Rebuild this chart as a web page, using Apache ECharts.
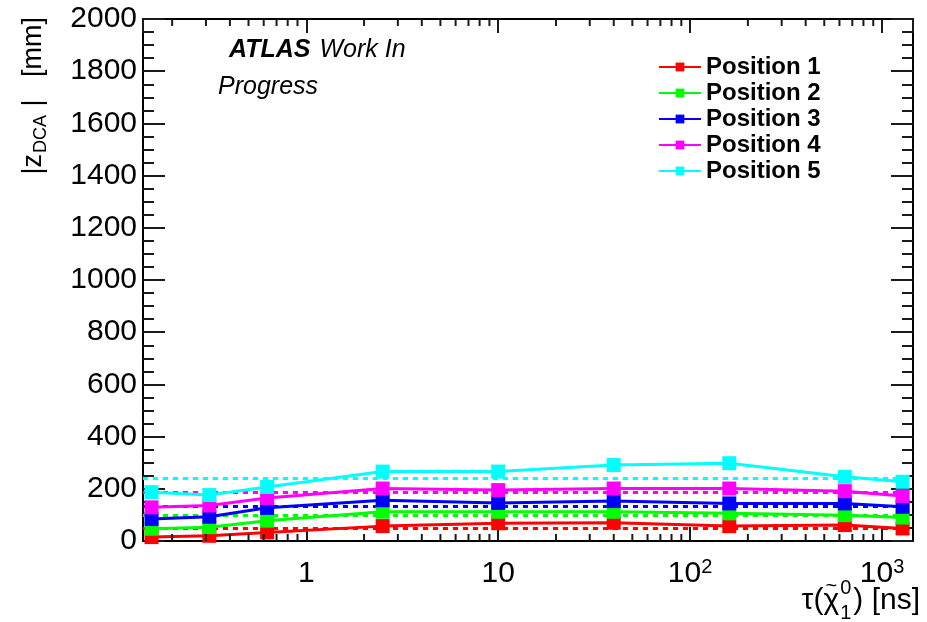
<!DOCTYPE html>
<html>
<head>
<meta charset="utf-8">
<script src="https://cdn.jsdelivr.net/npm/echarts@6/dist/echarts.min.js"></script>
<style>
  html, body { margin: 0; padding: 0; background: #ffffff; }
  #chart { width: 927px; height: 622px; }
</style>
</head>
<body>
<div id="chart"></div>
<script>
// Neutralino lifetimes [ns] at which |z_DCA| was evaluated
const lifetimes = [0.15625, 0.3125, 0.625, 2.5, 10, 40, 160, 640, 1280];

// |z_DCA| [mm] per detector position
const position1 = [15, 20, 33, 57, 68, 70, 57, 61, 48];
const position2 = [47, 53, 78, 112, 112, 112, 106, 99, 90];
const position3 = [84, 93, 127, 156, 146, 153, 144, 144, 131];
const position4 = [129, 136, 165, 201, 195, 201, 201, 191, 172];
const position5 = [187, 176, 207, 266, 266, 291, 298, 246, 227];

// dashed reference level for each position
const referenceLevels = [50, 97, 134, 186, 240];

const seriesNames = ['Position 1', 'Position 2', 'Position 3', 'Position 4', 'Position 5'];
const seriesColors = ['#ff0000', '#00ff00', '#0000ff', '#ff00ff', '#00ffff'];
const seriesValues = [position1, position2, position3, position4, position5];

// decade labels on the lifetime axis
const xTickLabels = { 1: '1', 10: '10', 100: '10{sup|2}', 1000: '10{sup|3}' };
// minor ticks between decades
const xMinorTicks = [0.2, 0.3, 0.4, 0.5, 0.6, 0.7, 0.8, 0.9,
                     2, 3, 4, 5, 6, 7, 8, 9,
                     20, 30, 40, 50, 60, 70, 80, 90,
                     200, 300, 400, 500, 600, 700, 800, 900];

const xRange = [0.141, 1450];
const yRange = [0, 2000];
const yStep = 200;

const FONT = '"Liberation Sans", Arial, Helvetica, sans-serif';
const TICK = { color: '#1a1a1a', width: 2 };

const chart = echarts.init(document.getElementById('chart'), null, { renderer: 'canvas' });

// text width helper for composing the axis title
const measureCtx = document.createElement('canvas').getContext('2d');
function textWidth(t, size, weight) {
  measureCtx.font = (weight || 'normal') + ' ' + size + 'px ' + FONT;
  return measureCtx.measureText(t).width;
}

const lineSeries = seriesNames.map((name, i) => ({
  name: name,
  type: 'line',
  xAxisIndex: 0,
  yAxisIndex: 0,
  data: lifetimes.map((t, j) => [t, seriesValues[i][j]]),
  symbol: 'rect',
  symbolSize: 14,
  showAllSymbol: true,
  itemStyle: { color: seriesColors[i] },
  lineStyle: { color: seriesColors[i], width: 3 },
  z: 3 + i,
  markLine: {
    silent: true,
    symbol: 'none',
    label: { show: false },
    lineStyle: { color: seriesColors[i], width: 3, type: [5, 5] },
    data: [{ yAxis: referenceLevels[i] }],
    z: 2
  }
}));

// x-axis title: tau(chi~_1^0) [ns], right aligned
const TF = 30, SF = 20;
const xtRight = 920, xtMid = 601;
const partA = 'τ(';
const partChi = 'χ';
const partC = ') [ns]';
const wA = textWidth(partA, TF);
const wChi = textWidth(partChi, TF);
const wS = Math.max(textWidth('0', SF), textWidth('1', SF));
const wC = textWidth(partC, TF);
const xt0 = xtRight - wC - wS - 3 - wChi - wA;

const baseGraphics = [
  {
    type: 'text',
    x: 229,
    y: 50,
    style: {
      text: '{b|ATLAS} {i|Work In}',
      verticalAlign: 'middle',
      font: 'italic 25px ' + FONT,
      rich: {
        b: { fontFamily: FONT, fontSize: 25, fontWeight: 'bold', fontStyle: 'italic', fill: '#000' },
        i: { fontFamily: FONT, fontSize: 25, fontStyle: 'italic', fill: '#000', padding: [0, 0, 0, 2] }
      }
    }
  },
  {
    type: 'text',
    x: 218,
    y: 87,
    style: { text: 'Progress', verticalAlign: 'middle', font: 'italic 25px ' + FONT, fill: '#000' }
  },
  {
    type: 'text',
    x: 34,
    y: 17,
    rotation: Math.PI / 2,
    style: {
      text: '|z{sub|DCA} |   [mm]',
      align: 'right',
      verticalAlign: 'middle',
      font: '27px ' + FONT,
      fill: '#000',
      rich: {
        sub: { fontFamily: FONT, fontSize: 18, fill: '#000', padding: [15, 1, 0, 1] }
      }
    }
  },
  { type: 'text', x: xt0, y: xtMid, style: { text: partA, font: TF + 'px ' + FONT, fill: '#000', verticalAlign: 'middle' } },
  { type: 'text', x: xt0 + wA, y: xtMid, style: { text: partChi, font: TF + 'px ' + FONT, fill: '#000', verticalAlign: 'middle' } },
  { type: 'text', x: xt0 + wA + wChi / 2, y: xtMid - 15, style: { text: '~', font: '20px ' + FONT, fill: '#000', align: 'center', verticalAlign: 'middle' } },
  { type: 'text', x: xt0 + wA + wChi + 1, y: xtMid - 13, style: { text: '0', font: SF + 'px ' + FONT, fill: '#000', verticalAlign: 'middle' } },
  { type: 'text', x: xt0 + wA + wChi + 1, y: xtMid + 12, style: { text: '1', font: SF + 'px ' + FONT, fill: '#000', verticalAlign: 'middle' } },
  { type: 'text', x: xt0 + wA + wChi + wS + 3, y: xtMid, style: { text: partC, font: TF + 'px ' + FONT, fill: '#000', verticalAlign: 'middle' } }
];

const option = {
  animation: false,
  backgroundColor: '#ffffff',
  grid: { left: 143, right: 14, top: 19, bottom: 81, containLabel: false },
  legend: {
    orient: 'vertical',
    left: 653,
    top: 50,
    itemWidth: 42,
    itemHeight: 11,
    itemGap: 2,
    data: seriesNames,
    textStyle: { fontFamily: FONT, fontWeight: 'bold', fontSize: 24, color: '#000', lineHeight: 24 }
  },
  xAxis: [
    {
      type: 'log',
      logBase: 10,
      min: xRange[0],
      max: xRange[1],
      position: 'bottom',
      axisLine: { show: true, onZero: false, lineStyle: { color: '#000', width: 2 } },
      axisTick: { show: true, inside: true, length: 14, lineStyle: TICK },
      splitLine: { show: false },
      axisLabel: {
        show: true,
        showMinLabel: false,
        showMaxLabel: false,
        margin: 33,
        verticalAlign: 'middle',
        fontFamily: FONT,
        fontSize: 30,
        color: '#000',
        formatter: function (v) {
          const k = Math.round(v);
          return xTickLabels[k] !== undefined && Math.abs(v - k) < 1e-6 ? xTickLabels[k] : '';
        },
        rich: {
          sup: { fontFamily: FONT, fontSize: 20, color: '#000', padding: [0, 0, 14, 0] }
        }
      }
    },
    {
      type: 'log',
      logBase: 10,
      min: xRange[0],
      max: xRange[1],
      position: 'top',
      axisLine: { show: true, onZero: false, lineStyle: { color: '#000', width: 2 } },
      axisTick: { show: true, inside: true, length: 14, lineStyle: TICK },
      splitLine: { show: false },
      axisLabel: { show: false }
    }
  ],
  yAxis: [
    {
      type: 'value',
      min: yRange[0],
      max: yRange[1],
      interval: yStep,
      position: 'left',
      axisLine: { show: true, onZero: false, lineStyle: { color: '#000', width: 2 } },
      axisTick: { show: true, inside: true, length: 22, lineStyle: TICK },
      minorTick: { show: true, splitNumber: 4, length: 11, lineStyle: TICK },
      splitLine: { show: false },
      minorSplitLine: { show: false },
      axisLabel: {
        margin: 6, fontFamily: FONT, fontSize: 30, color: '#000',
        formatter: function (v) { return String(v); }
      }
    },
    {
      type: 'value',
      min: yRange[0],
      max: yRange[1],
      interval: yStep,
      position: 'right',
      axisLine: { show: true, onZero: false, lineStyle: { color: '#000', width: 2 } },
      axisTick: { show: true, inside: true, length: 22, lineStyle: TICK },
      minorTick: { show: true, splitNumber: 4, length: 11, lineStyle: TICK },
      splitLine: { show: false },
      axisLabel: { show: false }
    }
  ],
  graphic: baseGraphics,
  series: lineSeries
};

chart.setOption(option);

// minor ticks of the log axis, placed through the axis scale on bottom and top edges
const minorTickGraphics = [];
xMinorTicks.forEach(function (v) {
  const b = chart.convertToPixel({ seriesIndex: 0 }, [v, yRange[0]]);
  const t = chart.convertToPixel({ seriesIndex: 0 }, [v, yRange[1]]);
  const st = { stroke: TICK.color, lineWidth: TICK.width };
  minorTickGraphics.push(
    { type: 'line', silent: true, z: 20, shape: { x1: b[0], y1: b[1], x2: b[0], y2: b[1] - 7 }, style: st },
    { type: 'line', silent: true, z: 20, shape: { x1: t[0], y1: t[1], x2: t[0], y2: t[1] + 7 }, style: st }
  );
});

chart.setOption({ graphic: baseGraphics.concat(minorTickGraphics) });
</script>
</body>
</html>
